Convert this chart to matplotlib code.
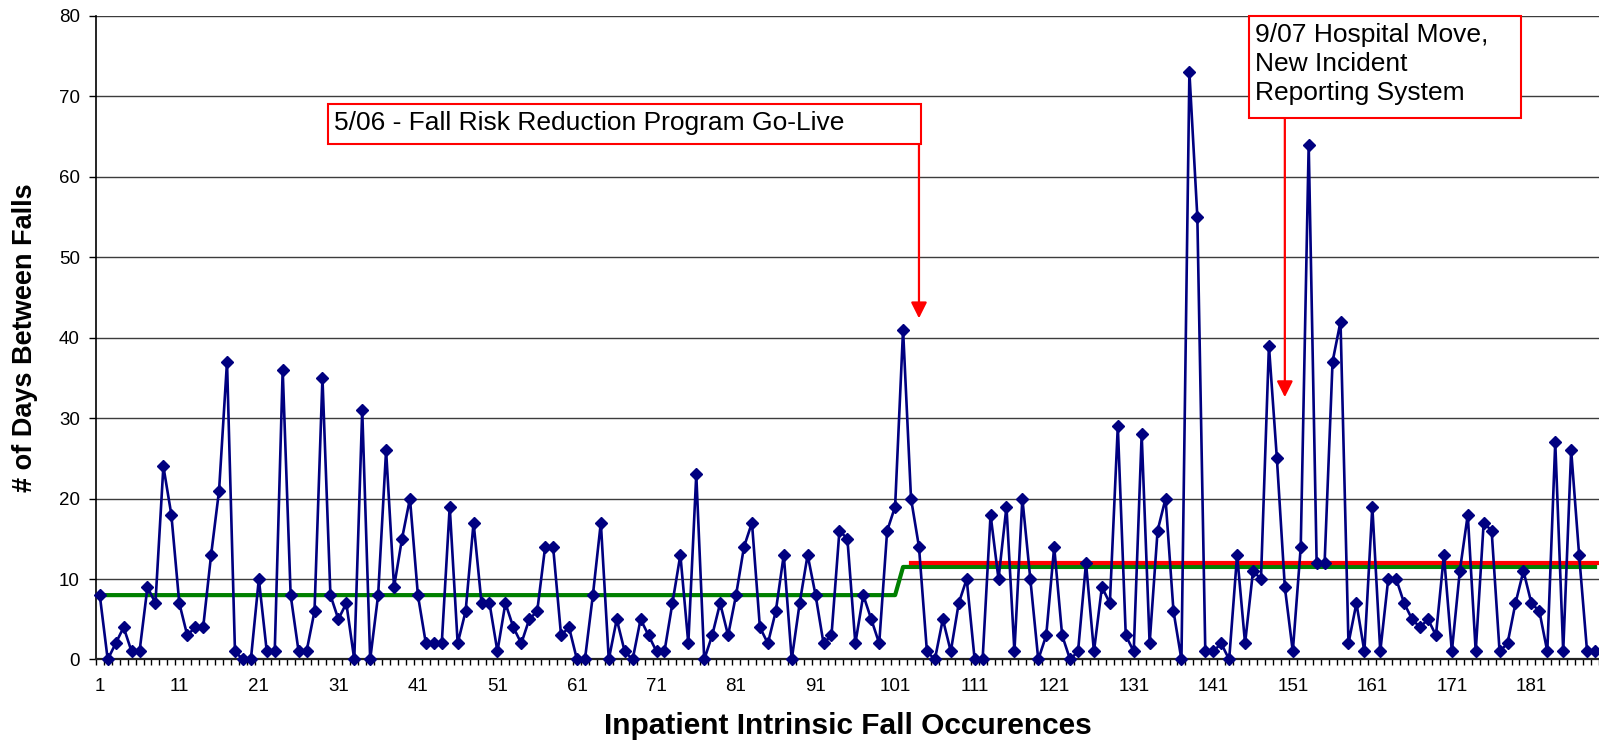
import numpy as np
import matplotlib.pyplot as plt
from matplotlib.patches import Rectangle
from matplotlib.ticker import FixedLocator, MultipleLocator

plt.rcParams['font.family'] = ['Liberation Sans', 'DejaVu Sans']

# Days between consecutive inpatient falls, in order of occurrence
days_between = [
    8, 0, 2, 4, 1, 1, 9, 7, 24, 18,
    7, 3, 4, 4, 13, 21, 37, 1, 0, 0,
    10, 1, 1, 36, 8, 1, 1, 6, 35, 8,
    5, 7, 0, 31, 0, 8, 26, 9, 15, 20,
    8, 2, 2, 2, 19, 2, 6, 17, 7, 7,
    1, 7, 4, 2, 5, 6, 14, 14, 3, 4,
    0, 0, 8, 17, 0, 5, 1, 0, 5, 3,
    1, 1, 7, 13, 2, 23, 0, 3, 7, 3,
    8, 14, 17, 4, 2, 6, 13, 0, 7, 13,
    8, 2, 3, 16, 15, 2, 8, 5, 2, 16,
    19, 41, 20, 14, 1, 0, 5, 1, 7, 10,
    0, 0, 18, 10, 19, 1, 20, 10, 0, 3,
    14, 3, 0, 1, 12, 1, 9, 7, 29, 3,
    1, 28, 2, 16, 20, 6, 0, 73, 55, 1,
    1, 2, 0, 13, 2, 11, 10, 39, 25, 9,
    1, 14, 64, 12, 12, 37, 42, 2, 7, 1,
    19, 1, 10, 10, 7, 5, 4, 5, 3, 13,
    1, 11, 18, 1, 17, 16, 1, 2, 7, 11,
    7, 6, 1, 27, 1, 26, 13, 1, 1,
]
n_falls = len(days_between)
occurrence = np.arange(1, n_falls + 1)

# Centre lines: before / after the program go-live
pre_mean, post_mean = 8, 11.5
golive_index = 101          # last occurrence on the old centre line
post_move_level = 12        # average after the hospital move
post_move_start = 103

centre = np.where(occurrence <= golive_index, pre_mean, post_mean)

event_labels = ["5/06 - Fall Risk Reduction Program Go-Live",
                "9/07 Hospital Move,\nNew Incident\nReporting System"]
event_x = [104.0, 150.0]

fig = plt.figure(figsize=(15.99, 7.41), dpi=100)
ax = fig.add_axes([0.0599, 0.1100, 0.9401, 0.8687])

navy = '#000080'
ax.plot(occurrence, centre, color='#008000', lw=3.0, zorder=3)
ax.plot([post_move_start, n_falls + 0.5], [post_move_level] * 2,
        color='#ff0000', lw=3.0, zorder=3, clip_on=False)
ax.plot(occurrence, days_between, color=navy, lw=1.9, marker='D',
        ms=6.2, mfc=navy, mec=navy, zorder=4, clip_on=False)

ax.set_xlim(0.5, n_falls + 0.5)
ax.set_ylim(0, 80)

ax.yaxis.set_major_locator(MultipleLocator(10))
ax.grid(axis='y', color='#3c3c3c', lw=1.0)
ax.set_axisbelow(True)

ax.xaxis.set_major_locator(FixedLocator(np.arange(1, n_falls + 1, 10)))
ax.xaxis.set_minor_locator(FixedLocator(np.arange(0.5, n_falls + 1, 1)))
ax.tick_params(axis='x', which='major', length=0, pad=13, labelsize=13.5)
ax.tick_params(axis='x', which='minor', length=4.3, width=1.0, color='black')
ax.tick_params(axis='y', length=5, width=1.0, pad=6.5, labelsize=13.5)

for side in ('top', 'right'):
    ax.spines[side].set_visible(False)
ax.spines['left'].set_linewidth(1.2)
ax.spines['bottom'].set_linewidth(1.6)
ax.spines['bottom'].set_color('#222222')

ax.set_xlabel('Inpatient Intrinsic Fall Occurences', fontsize=21.5,
              fontweight='bold', va='baseline')
ax.xaxis.set_label_coords(0.5, -0.1165)
ax.set_ylabel('# of Days Between Falls', fontsize=19.5, fontweight='bold',
              va='center')
ax.yaxis.set_label_coords(-0.0470, 0.5)

# Annotation boxes with arrows pointing into the series
boxes = [(29.75, 64.1, 104.3, 69.05), (145.5, 67.3, 179.7, 79.95)]
text_pos = [(30.4, 68.2), (146.2, 79.1)]
arrow_tips = [42.4, 32.6]
for label, (x0, y0, x1, y1), (tx, ty), ax_x, tip in zip(
        event_labels, boxes, text_pos, event_x, arrow_tips):
    ax.add_patch(Rectangle((x0, y0), x1 - x0, y1 - y0, facecolor='white',
                           edgecolor='#ff0000', lw=1.5, zorder=6,
                           clip_on=False))
    ax.text(tx, ty, label, fontsize=19, va='top', ha='left',
            linespacing=1.27, zorder=7)
    ax.annotate('', xy=(ax_x, tip), xytext=(ax_x, y0),
                arrowprops=dict(arrowstyle='-|>', color='#ff0000', lw=1.6,
                                mutation_scale=24, shrinkA=0, shrinkB=0),
                zorder=5)

fig.savefig('out.png', dpi=100)
